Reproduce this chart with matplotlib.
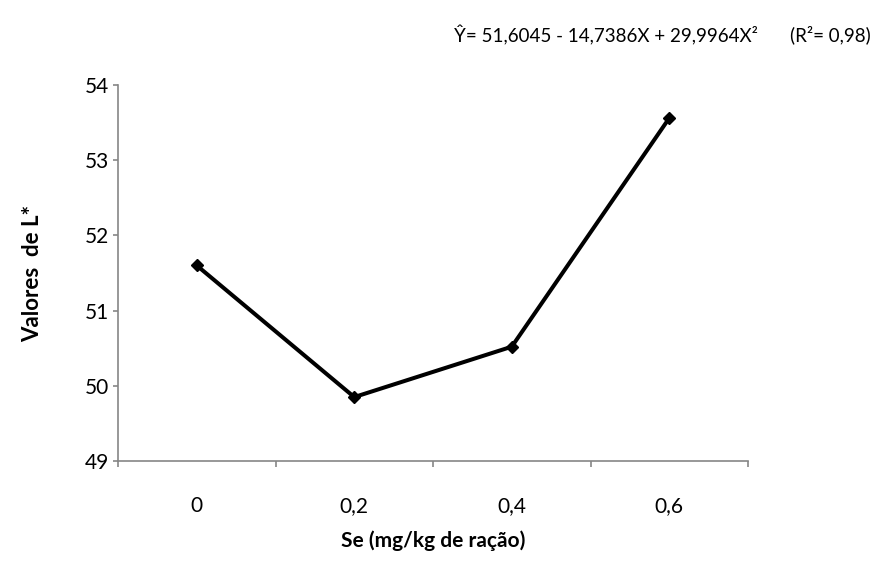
import numpy as np
import matplotlib.pyplot as plt

plt.rcParams['font.family'] = ['Lato', 'DejaVu Sans']

# Se dose (mg/kg of feed) and measured L* values
doses = ['0', '0,2', '0,4', '0,6']
valores_L = [51.60, 49.85, 50.52, 53.56]

yticks = [49, 50, 51, 52, 53, 54]

fig = plt.figure(figsize=(8.77, 5.62), dpi=100)
ax = fig.add_axes([118/877, 1 - 461/562, 630/877, 376/562])

x = np.arange(len(doses))
ax.plot(x, valores_L, color='black', lw=2.9, marker='D', ms=6.5,
        markerfacecolor='black', markeredgecolor='black', solid_joinstyle='miter')

gray = '#868686'
ax.set_xlim(-0.5, len(doses) - 0.5)
ax.set_ylim(49, 54)
ax.set_yticks(yticks)
ax.set_yticklabels([str(v) for v in yticks])
ax.set_xticks(x)
ax.set_xticklabels(doses)
ax.set_xticks(np.arange(len(doses) + 1) - 0.5, minor=True)

for s in ['top', 'right']:
    ax.spines[s].set_visible(False)
for s in ['left', 'bottom']:
    ax.spines[s].set_color(gray)
    ax.spines[s].set_linewidth(1.2)

ax.tick_params(axis='y', length=3.6, width=1.2, color=gray, pad=3, labelsize=15)
ax.tick_params(axis='x', which='major', length=0, pad=25, labelsize=15)
ax.tick_params(axis='x', which='minor', length=4.5, width=1.2, color=gray)

ax.set_ylabel('Valores  de L*', fontsize=16, fontweight='bold')
ax.yaxis.set_label_coords((33 - 118) / 630, 0.5)
ax.yaxis.label.set_va('center')
ax.set_xlabel('Se (mg/kg de ração)', fontsize=15, fontweight='bold')
ax.xaxis.set_label_coords(0.5, (461 - 541) / 376)
ax.xaxis.label.set_va('center')

fig.text(454/877, 1 - 35/562, 'Ŷ= 51,6045 - 14,7386X + 29,9964X²',
         fontsize=13.5, va='center', ha='left')
fig.text(871/877, 1 - 35/562, '(R²= 0,98)', fontsize=13.5, va='center', ha='right')

fig.savefig('out.png', dpi=100)
